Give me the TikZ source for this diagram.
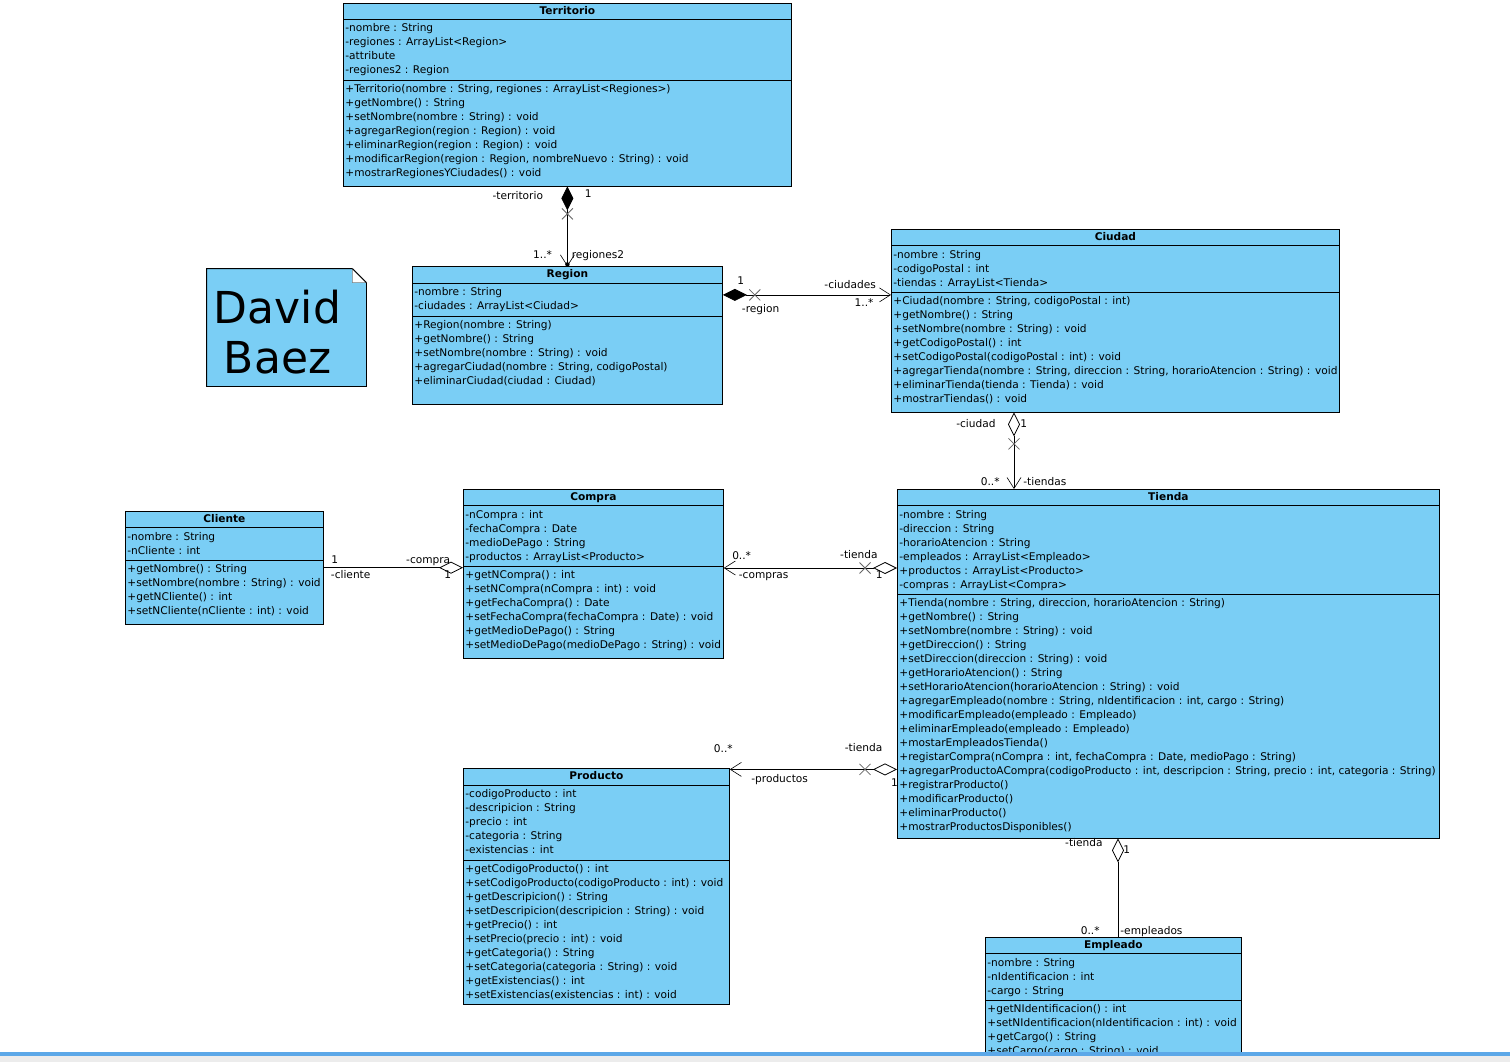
\documentclass[tikz,border=0pt]{standalone}
\usepackage{fontspec}
\setmainfont{DejaVu Sans}
\usepackage{array}
\usepackage{tikz}
\usetikzlibrary{arrows.meta}
\usetikzlibrary{positioning}

\definecolor{classblue}{RGB}{122,206,245}
\definecolor{barblue}{RGB}{92,168,232}
\definecolor{bargrey}{RGB}{236,236,236}

\setlength{\arrayrulewidth}{0.8pt}
\newcolumntype{U}[1]{@{\hspace{2pt}}w{l}{#1}@{\hspace{2pt}}}
\newcommand{\umltitle}[1]{\noalign{\vskip 1pt}\multicolumn{1}{c}{\textbf{#1}}\\[1pt]\hline\noalign{\vskip 2pt}}
\newcommand{\umlsep}{\\[2pt]\hline\noalign{\vskip 2pt}}

\tikzset{
  comp/.tip={Diamond[length=24pt,width=12pt]},
  aggr/.tip={Diamond[open,length=24pt,width=12pt]},
  nav/.tip={Straight Barb[length=11pt,width=14pt,line width=0.6pt]}
}

\begin{document}
\begin{tikzpicture}[x=1pt,y=-1pt,line width=0.8pt,
    font=\fontsize{10.6}{14}\selectfont]
\tikzstyle{class}=[draw, fill=classblue, inner sep=0pt, anchor=north west]
\tikzstyle{lbl}=[inner sep=0pt, text height=8pt, text depth=2.5pt]
\tikzstyle{navx}=[draw=black!60, line width=0.8pt]

\fill[white] (0,0) rectangle (1510,1062);
\useasboundingbox (0,0) rectangle (1510,1062);

\node[class] (territorio) at (343,3) {\begin{tabular}{U{444pt}}
  \umltitle{Territorio}
  -nombre : String\\
  -regiones : ArrayList<Region>\\
  -attribute\\
  -regiones2 : Region\umlsep
  +Territorio(nombre : String, regiones : ArrayList<Regiones>)\\
  +getNombre() : String\\
  +setNombre(nombre : String) : void\\
  +agregarRegion(region : Region) : void\\
  +eliminarRegion(region : Region) : void\\
  +modificarRegion(region : Region, nombreNuevo : String) : void\\
  +mostrarRegionesYCiudades() : void\\[5pt]
\end{tabular}};

\node[class, below=80pt of territorio] (region) {\begin{tabular}{U{306pt}}
  \umltitle{Region}
  -nombre : String\\
  -ciudades : ArrayList<Ciudad>\umlsep
  +Region(nombre : String)\\
  +getNombre() : String\\
  +setNombre(nombre : String) : void\\
  +agregarCiudad(nombre : String, codigoPostal)\\
  +eliminarCiudad(ciudad : Ciudad)\\[16pt]
\end{tabular}};

\node[class] (ciudad) at (891,229) {\begin{tabular}{U{444pt}}
  \umltitle{Ciudad}
  -nombre : String\\
  -codigoPostal : int\\
  -tiendas : ArrayList<Tienda>\umlsep
  +Ciudad(nombre : String, codigoPostal : int)\\
  +getNombre() : String\\
  +setNombre(nombre : String) : void\\
  +getCodigoPostal() : int\\
  +setCodigoPostal(codigoPostal : int) : void\\
  +agregarTienda(nombre : String, direccion : String, horarioAtencion : String) : void\\
  +eliminarTienda(tienda : Tienda) : void\\
  +mostrarTiendas() : void\\[5pt]
\end{tabular}};

\node[class] (tienda) at (897,489) {\begin{tabular}{U{538pt}}
  \umltitle{Tienda}
  -nombre : String\\
  -direccion : String\\
  -horarioAtencion : String\\
  -empleados : ArrayList<Empleado>\\
  +productos : ArrayList<Producto>\\
  -compras : ArrayList<Compra>\umlsep
  +Tienda(nombre : String, direccion, horarioAtencion : String)\\
  +getNombre() : String\\
  +setNombre(nombre : String) : void\\
  +getDireccion() : String\\
  +setDireccion(direccion : String) : void\\
  +getHorarioAtencion() : String\\
  +setHorarioAtencion(horarioAtencion : String) : void\\
  +agregarEmpleado(nombre : String, nIdentificacion : int, cargo : String)\\
  +modificarEmpleado(empleado : Empleado)\\
  +eliminarEmpleado(empleado : Empleado)\\
  +mostarEmpleadosTienda()\\
  +registarCompra(nCompra : int, fechaCompra : Date, medioPago : String)\\
  +agregarProductoACompra(codigoProducto : int, descripcion : String, precio : int, categoria : String)\\
  +registrarProducto()\\
  +modificarProducto()\\
  +eliminarProducto()\\
  +mostrarProductosDisponibles()\\[3pt]
\end{tabular}};

\node[class] (cliente) at (125,511) {\begin{tabular}{U{194pt}}
  \umltitle{Cliente}
  -nombre : String\\
  -nCliente : int\umlsep
  +getNombre() : String\\
  +setNombre(nombre : String) : void\\
  +getNCliente() : int\\
  +setNCliente(nCliente : int) : void\\[5pt]
\end{tabular}};

\node[class] (compra) at (463,489) {\begin{tabular}{U{256pt}}
  \umltitle{Compra}
  -nCompra : int\\
  -fechaCompra : Date\\
  -medioDePago : String\\
  -productos : ArrayList<Producto>\umlsep
  +getNCompra() : int\\
  +setNCompra(nCompra : int) : void\\
  +getFechaCompra() : Date\\
  +setFechaCompra(fechaCompra : Date) : void\\
  +getMedioDePago() : String\\
  +setMedioDePago(medioDePago : String) : void\\[5pt]
\end{tabular}};

\node[class, below=110pt of compra.south west, anchor=north west] (producto) {\begin{tabular}{U{262pt}}
  \umltitle{Producto}
  -codigoProducto : int\\
  -descripicion : String\\
  -precio : int\\
  -categoria : String\\
  -existencias : int\umlsep
  +getCodigoProducto() : int\\
  +setCodigoProducto(codigoProducto : int) : void\\
  +getDescripicion() : String\\
  +setDescripicion(descripicion : String) : void\\
  +getPrecio() : int\\
  +setPrecio(precio : int) : void\\
  +getCategoria() : String\\
  +setCategoria(categoria : String) : void\\
  +getExistencias() : int\\
  +setExistencias(existencias : int) : void\\[2pt]
\end{tabular}};

\node[class] (empleado) at (985,937) {\begin{tabular}{U{252pt}}
  \umltitle{Empleado}
  -nombre : String\\
  -nIdentificacion : int\\
  -cargo : String\umlsep
  +getNIdentificacion() : int\\
  +setNIdentificacion(nIdentificacion : int) : void\\
  +getCargo() : String\\
  +setCargo(cargo : String) : void\\[5pt]
\end{tabular}};

% note
\node[minimum width=159pt, minimum height=117pt, inner sep=0pt] (note) at (286.5,327.5) {};
\filldraw[fill=classblue] (note.north west) -- ([xshift=-14pt]note.north east)
  -- ([yshift=-14pt]note.north east) -- (note.south east) -- (note.south west) -- cycle;
\filldraw[fill=white, draw=black!50, line width=0.6pt] ([xshift=-14pt]note.north east)
  -- ([xshift=-14pt,yshift=-14pt]note.north east) -- ([yshift=-14pt]note.north east) -- cycle;
\draw ([xshift=-14pt]note.north east) -- ([yshift=-14pt]note.north east);
\node[align=center, font=\fontsize{44}{50}\selectfont] (author)
  at ([xshift=-9pt,yshift=-4.5pt]note.center) {David\\Baez};

% associations
\draw[comp-nav] (territorio.south) -- node[lbl,pos=.13,left=24pt]{-territorio}
    node[lbl,pos=.105,right=17pt]{1} node[lbl,pos=.868,left=15pt]{1..*}
    node[lbl,pos=.868,right=4pt]{regiones2} (region.north);
\fill ([yshift=2pt]region.north) circle (2.2pt);
\draw[navx] ([yshift=-27.5pt]territorio.south) +(-5.5,-5.5) -- +(5.5,5.5) +(-5.5,5.5) -- +(5.5,-5.5);

\draw[comp-nav] ([yshift=-28.5pt]region.north east) -- node[lbl,pos=.107,above=7.5pt]{1}
    node[lbl,pos=.225,below=9.5pt]{-region} node[lbl,pos=.757,above=3.5pt]{-ciudades}
    node[lbl,pos=.84,below=3.5pt]{1..*} ([yshift=-28.5pt]region.north east -| ciudad.west);
\draw[navx] ([xshift=32pt,yshift=-28.5pt]region.north east) +(-5.5,-5.5) -- +(5.5,5.5) +(-5.5,5.5) -- +(5.5,-5.5);

\draw[aggr-nav] ([xshift=123pt]ciudad.south west) -- node[lbl,pos=.16,left=18pt]{-ciudad}
    node[lbl,pos=.16,right=6pt]{1} node[lbl,pos=.915,left=14pt]{0..*}
    node[lbl,pos=.915,right=9pt]{-tiendas} ([xshift=123pt]ciudad.south west |- tienda.north);
\draw[navx] ([xshift=123pt,yshift=-31.5pt]ciudad.south west) +(-5.5,-5.5) -- +(5.5,5.5) +(-5.5,5.5) -- +(5.5,-5.5);

\draw[-aggr] (cliente.east) -- node[lbl,pos=.079,above=1.5pt]{1}
    node[lbl,pos=.193,below=2pt]{-cliente} node[lbl,pos=.75,above=1.5pt]{-compra}
    node[lbl,pos=.89,below=2.75pt]{1} (cliente.east -| compra.west);

\draw[nav-aggr] ([yshift=-79pt]compra.north east) -- node[lbl,pos=.103,above=5.75pt]{0..*}
    node[lbl,pos=.23,below=2pt]{-compras} node[lbl,pos=.78,above=6.75pt]{-tienda}
    node[lbl,pos=.897,below=2pt]{1} ([yshift=-79pt]compra.north east -| tienda.west);
\draw[navx] ([xshift=-32pt,yshift=-79pt]tienda.north west) +(-5.5,-5.5) -- +(5.5,5.5) +(-5.5,5.5) -- +(5.5,-5.5);

\draw[nav-aggr] ([yshift=-1pt]producto.north east) -- node[lbl,pos=0,above=14pt,xshift=-6.5pt]{0..*}
    node[lbl,pos=.298,below=4.5pt]{-productos} node[lbl,pos=.8,above=15pt]{-tienda}
    node[lbl,pos=.985,below=8.75pt]{1} ([yshift=-1pt]producto.north east -| tienda.west);
\draw[navx] ([xshift=-32pt,yshift=-1pt]producto.north east -| tienda.west) +(-5.5,-5.5) -- +(5.5,5.5) +(-5.5,5.5) -- +(5.5,-5.5);

\draw[aggr-] ([xshift=221pt]tienda.south west) -- node[lbl,pos=.05,left=15pt]{-tienda}
    node[lbl,pos=.13,right=5pt]{1} node[lbl,pos=.947,left=18pt]{0..*}
    node[lbl,pos=.947,right=2pt]{-empleados} ([xshift=221pt]tienda.south west |- empleado.north);

% window edge
\fill[barblue] (0,1051.5) rectangle (1510,1055.5);
\fill[bargrey] (0,1055.5) rectangle (1510,1062);
\end{tikzpicture}
\end{document}
